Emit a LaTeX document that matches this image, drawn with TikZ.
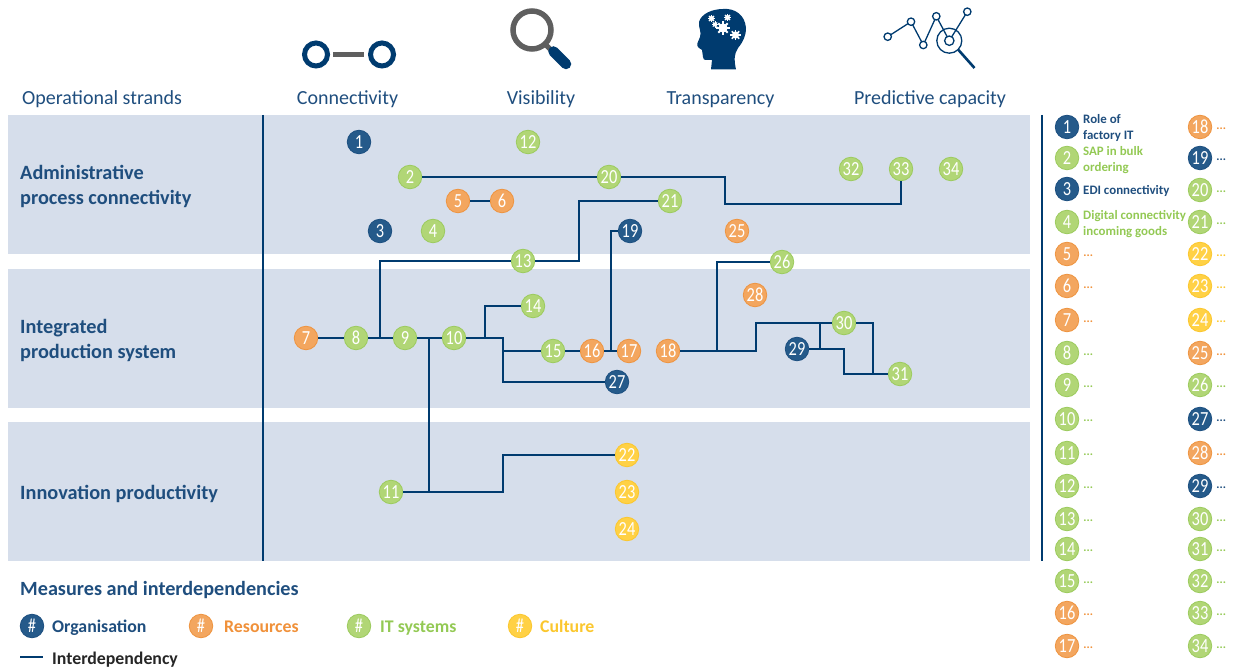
\documentclass[tikz,border=0pt]{standalone}
\usepackage{fontspec}
\setmainfont{Carlito}
\newfontfamily\numfont[FakeStretch=0.82]{Carlito}
\usetikzlibrary{calc}
\definecolor{navy}{HTML}{003B6F}
\definecolor{headtxt}{HTML}{1F4E7E}
\definecolor{band}{HTML}{D6DEEB}
\definecolor{orgF}{HTML}{255A8A}\definecolor{orgD}{HTML}{1C4F80}
\definecolor{resF}{HTML}{F3A65F}\definecolor{resD}{HTML}{EE9440}
\definecolor{itF}{HTML}{B1D676}\definecolor{itD}{HTML}{9CCB5E}
\definecolor{culF}{HTML}{FFD145}\definecolor{culD}{HTML}{FBC72E}
\definecolor{resT}{HTML}{F0913A}\definecolor{itT}{HTML}{93C954}\definecolor{culT}{HTML}{FBC72E}
\definecolor{grayic}{HTML}{5F5F5F}
\tikzset{
 num/.style={circle,draw,line width=0.8pt,minimum size=23.5pt,inner sep=0pt,text=white,font=\numfont\fontsize{20}{20}\selectfont},
 org/.style={num,fill=orgF,draw=orgD},
 res/.style={num,fill=resF,draw=resD},
 its/.style={num,fill=itF,draw=itD},
 cul/.style={num,fill=culF,draw=culD},
 link/.style={draw=navy,line width=2pt,line join=miter},
 strand/.style={anchor=base,text=headtxt,font=\fontsize{20}{20}\selectfont},
 row/.style={anchor=west,text=headtxt,align=left,font=\fontsize{20.3}{25}\selectfont\bfseries},
 legtxt/.style={anchor=west,align=left,font=\fontsize{12.9}{16}\selectfont\bfseries},
 dots/.style={anchor=west,inner sep=0pt,font=\fontsize{12}{12}\selectfont\bfseries},
 cat/.style={anchor=base west,inner sep=0pt,font=\fontsize{17.8}{18}\selectfont\bfseries},
}
\newcommand{\gearic}[3]{%
 \fill[white] (#1,#2) circle (#3);
 \foreach \a in {0,45,...,315}{\draw[white,line width=0.45*#3 pt] (#1,#2) -- ++(\a:1.45*#3);}
}
\begin{document}
\begin{tikzpicture}[x=1pt,y=-1pt]
\useasboundingbox (0,0) rectangle (1234,668);
% bands
\fill[band] (8,115) rectangle (1030,254);
\fill[band] (8,269) rectangle (1030,408);
\fill[band] (8,422) rectangle (1030,561);
\coordinate (ruleA) at (263,115); \coordinate (ruleB) at (263,561);
\draw[navy,line width=2.5pt] (ruleA) -- (ruleB);
\coordinate (ruleC) at (1042,115); \coordinate (ruleD) at (1042,561);
\draw[navy,line width=2.5pt] (ruleC) -- (ruleD);
% icons: connectivity
\draw[navy,line width=5pt] (316,54.5) circle (11.5) (382,54.5) circle (11.5);
\fill[grayic] (333,52) rectangle (364,57);
% visibility
\draw[grayic,line width=5.5pt] (532,30) circle (19);
\draw[grayic,line width=5pt] (545,44) -- (551,50);
\draw[navy,line width=10.5pt,line cap=round] (553.5,51.5) -- (566,64);
% transparency head
\fill[navy] (723,9) .. controls (735,8) and (745,15) .. (746,28)
 .. controls (746,36) and (743,42) .. (738,48)
 .. controls (734,54) and (734,60) .. (736,69.5)
 -- (711,69.5) -- (712,60) .. controls (708,59) and (703,62) .. (703,57)
 -- (702,50) .. controls (696,47) and (697,44) .. (697.5,43)
 -- (700,37) .. controls (702,32) and (698,27) .. (699,22)
 .. controls (701,14) and (712,9) .. (723,9) -- cycle;
\gearic{723}{28}{4.6}
\gearic{735.5}{35}{3.6}
\gearic{711.5}{18.5}{2.5}
\gearic{727.5}{17.5}{2.5}
\gearic{715}{24.5}{2.1}
% predictive icon
\draw[navy,line width=1.3pt] (887.7,36.7) -- (911,21.7) -- (923.3,45) -- (936.3,16.3) -- (949.3,40.7) -- (967.3,11.7);
\foreach \p in {(887.7,36.7),(911,21.7),(923.3,45),(936.3,16.3),(967.3,11.7)}
 \draw[navy,line width=1.3pt,fill=white] \p circle (3.7);
\draw[navy,line width=1.3pt] (949.3,40.7) circle (12.5);
\draw[navy,line width=1.3pt,fill=white] (949.3,40.7) circle (4.7);
\draw[navy,line width=2.6pt] (958.5,50) -- (974.5,68);
% headings
\node[anchor=base west,text=headtxt,inner sep=0pt,font=\fontsize{20}{20}\selectfont] (hOp) at (22,104.5) {Operational strands};
\node[strand,inner sep=0pt] (hCo) at (347.5,104.5) {Connectivity};
\node[strand,inner sep=0pt] (hVi) at (541,104.5) {Visibility};
\node[strand,inner sep=0pt] (hTr) at (720.5,104.5) {Transparency};
\node[strand,inner sep=0pt] (hPr) at (930,104.5) {Predictive capacity};
\node[row,inner sep=0pt] (rA) at (20,186.5) {Administrative\\process connectivity};
\node[row,inner sep=0pt] (rB) at (20,340.5) {Integrated\\production system};
\node[row,inner sep=0pt] (rC) at (20,493.5) {Innovation productivity};
% diagram nodes
\foreach \n/\x/\y/\s in {1/359/142/org,12/528/142/its,2/410/177/its,20/609/177/its,32/851/169/its,33/901/169/its,34/951/169/its,
 5/458/201/res,6/502/201/res,21/670/201/its,3/380/231/org,4/433/231/its,19/630/231/org,25/737/231/res,13/523/261/its,26/782/262/its,
 14/533/306/its,28/755/295/res,7/306/338/res,8/356/338/its,9/405/338/its,10/454/338/its,30/844/323/its,15/553/351/its,16/592/351/res,
 17/629/351/res,18/668/351/res,29/797/349/org,31/900/374/its,27/617/382/org,22/627/455/cul,23/627/492/cul,24/627/529/cul,11/391/492/its}
 \node[\s] (n\n) at (\x,\y) {\n};
% junctions
\coordinate (j20a) at (725,177); \coordinate (j20b) at (725,204); \coordinate (j20c) at (901,204);
\coordinate (j38) at (380,338); \coordinate (j13a) at (380,261);
\coordinate (j13b) at (579,261); \coordinate (j13c) at (579,201);
\coordinate (j9) at (429,338); \coordinate (j11) at (429,492);
\coordinate (j11b) at (503,492); \coordinate (j11c) at (503,455);
\coordinate (j14a) at (485,338); \coordinate (j14b) at (485,306);
\coordinate (j10) at (503,338); \coordinate (j15) at (503,351); \coordinate (j27) at (503,382);
\coordinate (j19a) at (611,351); \coordinate (j19b) at (611,231);
\coordinate (j26a) at (717,351); \coordinate (j26b) at (717,262);
\coordinate (j18) at (756,351); \coordinate (j30a) at (756,323);
\coordinate (j30b) at (820,323); \coordinate (j29) at (820,349);
\coordinate (j30c) at (873,323); \coordinate (j31a) at (873,374);
\coordinate (j29b) at (844,349); \coordinate (j31b) at (844,374);
% connectors
\draw[link] (n2) -- (n20);
\draw[link] (n20) -- (j20a) -- (j20b) -- (j20c) -- (n33);
\draw[link] (n5) -- (n6);
\draw[link] (n7) -- (n8);
\draw[link] (n8) -- (n9);
\draw[link] (j38) -- (j13a) -- (n13);
\draw[link] (n13) -- (j13b) -- (j13c) -- (n21);
\draw[link] (n9) -- (n10);
\draw[link] (j9) -- (j11) -- (n11);
\draw[link] (j11) -- (j11b) -- (j11c) -- (n22);
\draw[link] (n10) -- (j10) -- (j27) -- (n27);
\draw[link] (j14a) -- (j14b) -- (n14);
\draw[link] (j15) -- (n15);
\draw[link] (n15) -- (n16);
\draw[link] (n16) -- (n17);
\draw[link] (j19a) -- (j19b) -- (n19);
\draw[link] (n18) -- (j18) -- (j30a) -- (n30);
\draw[link] (j26a) -- (j26b) -- (n26);
\draw[link] (j30b) -- (j29);
\draw[link] (n29) -- (j29b) -- (j31b) -- (n31);
\draw[link] (n30) -- (j30c) -- (j31a);
% right key
\foreach \n/\x/\y/\s in {1/1067/127/org,2/1067/158/its,3/1067/189/org,4/1067/222/its,5/1067/254/res,6/1067/286/res,7/1067/320/res,8/1067/353/its,9/1067/385/its,10/1067/419/its,11/1067/453/its,12/1067/486/its,13/1067/519/its,14/1067/549/its,15/1067/581/its,16/1067/613/res,17/1067/646/res,
 18/1200/127/res,19/1200/158/org,20/1200/190/its,21/1200/222/its,22/1200/254/cul,23/1200/286/cul,24/1200/320/cul,25/1200/353/res,26/1200/385/its,27/1200/419/org,28/1200/453/res,29/1200/486/org,30/1200/519/its,31/1200/549/its,32/1200/581/its,33/1200/613/its,34/1200/646/its}
 \node[\s] (k\n) at (\x,\y) {\n};
\node[legtxt,text=headtxt,inner sep=0pt] (t1) at (1083,128) {Role of\\factory IT};
\node[legtxt,text=itT,inner sep=0pt] (t2) at (1083,160) {SAP in bulk\\ordering};
\node[legtxt,text=headtxt,inner sep=0pt] (t3) at (1083,190.5) {EDI connectivity};
\node[legtxt,text=itT,inner sep=0pt] (t4) at (1083,224) {Digital connectivity\\incoming goods};
\foreach \n/\c in {5/resT,6/resT,7/resT,8/itT,9/itT,10/itT,11/itT,12/itT,13/itT,14/itT,15/itT,16/resT,17/resT}
 \node[dots,text=\c] (d\n) at ($(k\n.east)+(4,1.5)$) {...};
\foreach \n/\c in {18/resT,19/headtxt,20/itT,21/itT,22/culT,23/culT,24/culT,25/resT,26/itT,27/headtxt,28/resT,29/headtxt,30/itT,31/itT,32/itT,33/itT,34/itT}
 \node[dots,text=\c] (d\n) at ($(k\n.east)+(4,1.5)$) {...};
% bottom legend
\node[anchor=base west,inner sep=0pt,text=headtxt,font=\fontsize{20.2}{21}\selectfont\bfseries] (mTitle) at (20,595) {Measures and interdependencies};
\node[org] (lOrg) at (32,626) {\#};
\node[res] (lRes) at (201,626) {\#};
\node[its] (lIt) at (359,626) {\#};
\node[cul] (lCul) at (520,626) {\#};
\node[cat,text=headtxt] (tOrg) at (52,632) {Organisation};
\node[cat,text=resT] (tRes) at (224,632) {Resources};
\node[cat,text=itT] (tIt) at (380,632) {IT systems};
\node[cat,text=culT] (tCul) at (540,632) {Culture};
\node[cat,text=black!85] (tInt) at (52,664) {Interdependency};
\coordinate (lnA) at (20,657);
\draw[navy,line width=1.2pt] (lnA) -- ++(23,0);
\end{tikzpicture}
\end{document}
